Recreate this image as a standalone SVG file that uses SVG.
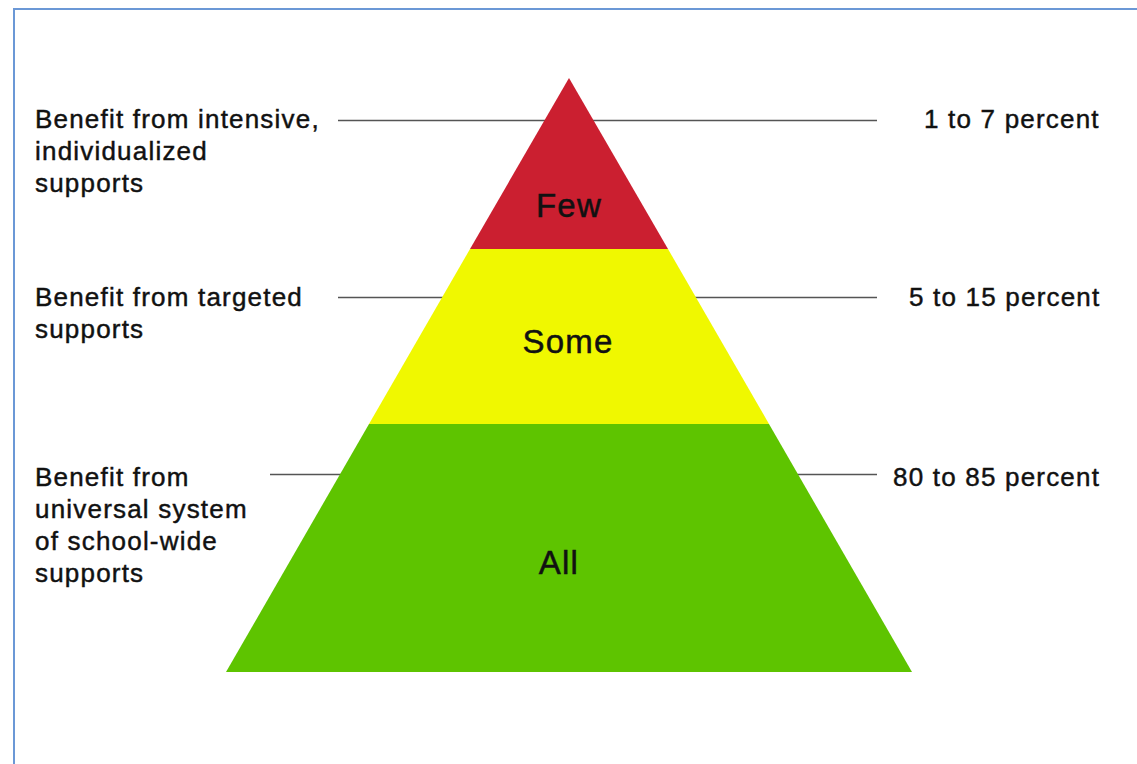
<svg xmlns="http://www.w3.org/2000/svg" width="1137" height="764" viewBox="0 0 1137 764">
<style>
.t{font-family:"Liberation Sans",Arial,sans-serif;font-size:26px;letter-spacing:1.2px;fill:#111;stroke:#111;stroke-width:0.45px}
.c{font-family:"Liberation Sans",Arial,sans-serif;font-size:33px;letter-spacing:1.2px;fill:#111;stroke:#111;stroke-width:0.5px;text-anchor:middle}
.ln{stroke:#555;stroke-width:1.5}
</style>
<rect width="1137" height="764" fill="#fff"/>
<rect x="14" y="9" width="1200" height="800" fill="none" stroke="#6b98d6" stroke-width="2"/>
<g id="connectors">
<line class="ln" x1="338" y1="120.5" x2="877" y2="120.5"/>
<line class="ln" x1="338" y1="297.5" x2="877" y2="297.5"/>
<line class="ln" x1="270" y1="474.5" x2="877" y2="474.5"/>
</g>
<g id="tier-few">
<polygon points="569,78 668,249 470,249" fill="#cb1f30"/>
<text class="c" x="569" y="217">Few</text>
</g>
<g id="tier-some">
<polygon points="470,249 668,249 769,424 369,424" fill="#f0f800"/>
<text class="c" x="568" y="353">Some</text>
</g>
<g id="tier-all">
<polygon points="369,424 769,424 912,672 226,672" fill="#5ec400"/>
<text class="c" x="559" y="574">All</text>
</g>
<g id="left-labels">
<text class="t" x="35" y="128">Benefit from intensive,</text>
<text class="t" x="35" y="160">individualized</text>
<text class="t" x="35" y="192">supports</text>
<text class="t" x="35" y="306">Benefit from targeted</text>
<text class="t" x="35" y="338">supports</text>
<text class="t" x="35" y="486">Benefit from</text>
<text class="t" x="35" y="518">universal system</text>
<text class="t" x="35" y="550">of school-wide</text>
<text class="t" x="35" y="582">supports</text>
</g>
<g id="right-labels">
<text class="t" x="924" y="128">1 to 7 percent</text>
<text class="t" x="909" y="306">5 to 15 percent</text>
<text class="t" x="893" y="486">80 to 85 percent</text>
</g>
</svg>
